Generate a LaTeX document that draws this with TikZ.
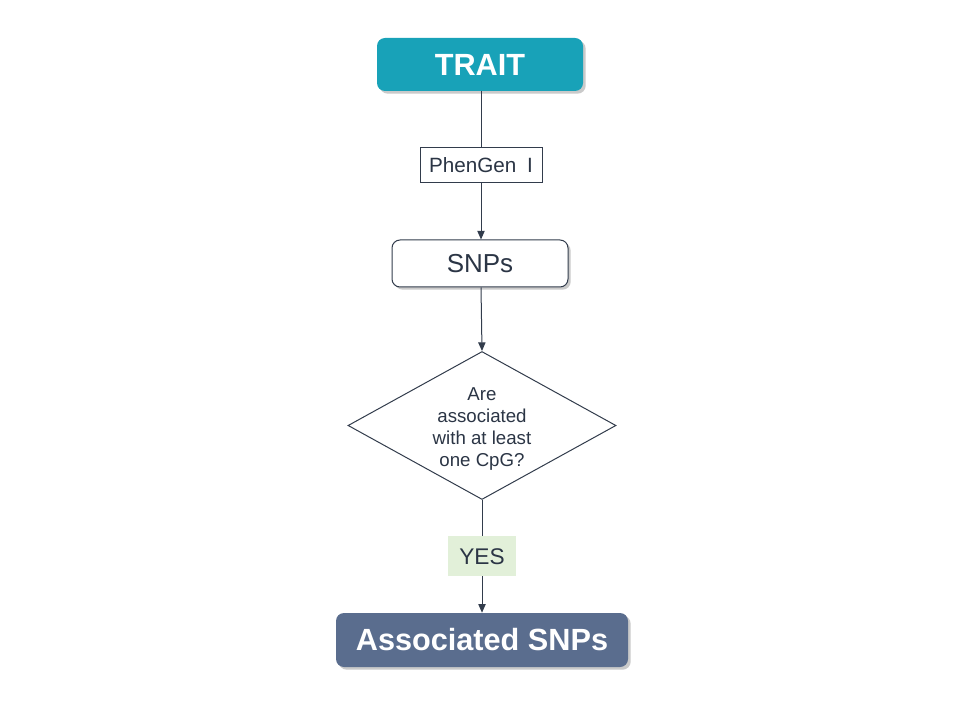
\documentclass[tikz,border=0pt]{standalone}
\usepackage{fontspec}
\setmainfont{Liberation Sans}
\usetikzlibrary{shapes.geometric,shadows,arrows.meta}
\definecolor{teal1}{HTML}{18A2B8}
\definecolor{slate1}{HTML}{5A6D8E}
\definecolor{ink}{HTML}{2B3545}
\definecolor{line1}{HTML}{323C4C}
\definecolor{yesfill}{HTML}{E2F0D9}
\tikzset{
  shad/.style={drop shadow={shadow xshift=2pt,shadow yshift=-2pt,opacity=0.35,fill=black!60}},
  bigbox/.style={rectangle,rounded corners=6pt,text=white,font=\bfseries\fontsize{23}{27}\selectfont,inner sep=0pt,shad},
  snpbox/.style={rectangle,rounded corners=6pt,draw=line1,line width=0.75pt,fill=white,text=ink,font=\fontsize{19.5}{23}\selectfont,inner sep=0pt,shad},
  lbl/.style={rectangle,draw=line1,line width=0.75pt,fill=white,text=ink,font=\fontsize{15.5}{18}\selectfont,inner sep=0pt},
  yeslbl/.style={rectangle,fill=yesfill,text=ink,font=\fontsize{17}{20}\selectfont,inner sep=0pt},
  decision/.style={diamond,draw=line1,line width=0.75pt,fill=white,inner sep=0pt,aspect=1.81},
  dtext/.style={text=ink,font=\fontsize{14}{16.5}\selectfont,align=center,inner sep=0pt},
  conn/.style={draw=line1,line width=0.75pt,-{Triangle[width=5.5pt,length=6.5pt]}}
}
\begin{document}
\begin{tikzpicture}[x=0.75pt,y=-0.75pt]
\useasboundingbox (0,0) rectangle (960,720);
\node[bigbox,fill=teal1,minimum width=154.5pt,minimum height=39.75pt] (trait) at (480,64.5) {TRAIT};
\node[snpbox,minimum width=132pt,minimum height=35.25pt] (snps) at (480,263.5) {SNPs};
\node[decision,minimum width=201pt,minimum height=111pt] (dia) at (482,425.5) {};
\node[dtext] (q) at (482,429) {Are\\associated\\with at least\\one CpG?};
\node[bigbox,fill=slate1,minimum width=219pt,minimum height=40.5pt] (assoc) at (482,640) {Associated SNPs};
\draw[conn] (trait.south -| 481,0) -- node[lbl,minimum width=91.5pt,minimum height=26.25pt] (phen) {PhenGen\hspace{0.25em} I} (snps.north -| 481,0);
\draw[conn] (snps.south -| 481,0) -- (dia.north);
\draw[conn] (dia.south) -- node[yeslbl,minimum width=51pt,minimum height=30pt] (yes) {YES} (assoc.north -| dia.south);
\end{tikzpicture}
\end{document}
